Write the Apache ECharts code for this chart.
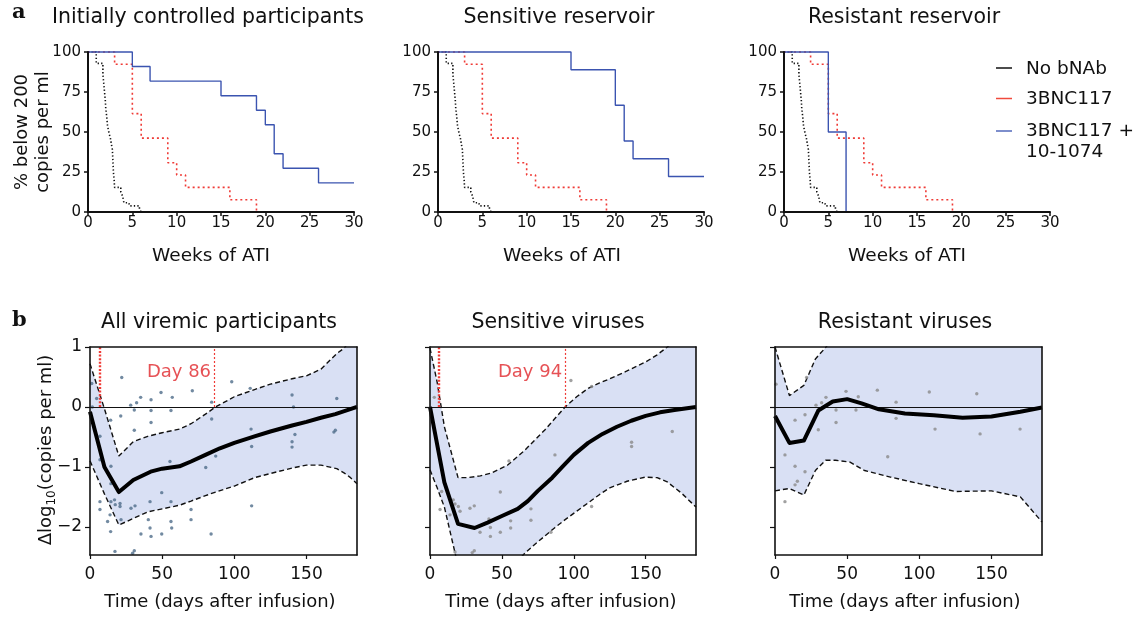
<!DOCTYPE html>
<html><head><meta charset="utf-8">
<script src="https://cdn.jsdelivr.net/npm/echarts@6/dist/echarts.min.js"></script>
<style>html,body{margin:0;padding:0;background:#fff}#c{width:1142px;height:619px}</style>
</head><body><div id="c"></div>
<script>
const FONT = '"DejaVu Sans", sans-serif';
const INK = '#111';
const RED = '#ef3b36';
const BLUE = '#3b54b0';
const BAND = '#d9e0f4';

// ---------- Panel a: Kaplan-Meier steps [week of ATI, % below 200 copies/ml]
const weekTicks = [0, 5, 10, 15, 20, 25, 30];
const pctTicks = [0, 25, 50, 75, 100];
const kmNoBnab = [[0,100],[0.93,92.9],[1.68,86],[1.85,76],[1.95,70],[2.0,65],[2.1,60],[2.2,54],[2.4,48.5],[2.5,47],[2.65,42],[2.75,39],[2.87,24.6],[2.95,20],[3.0,15.4],[3.7,12.5],[3.9,10],[4.05,5.8],[4.6,4.8],[4.7,3.8],[5.8,1.9],[6.0,0]];
const km3bnc117 = [[0,100],[3,92.3],[5,61.5],[6,46.2],[9,30.8],[10,23.1],[11,15.4],[16,7.7],[19,0]];
const kmComboControlled = [[0,100],[5,90.9],[7,81.8],[15,72.7],[19,63.6],[20,54.5],[21,36.4],[22,27.3],[26,18.2],[30,18.2]];
const kmComboSensitive = [[0,100],[15,88.9],[20,66.7],[21,44.4],[22,33.3],[26,22.2],[30,22.2]];
const kmComboResistant = [[0,100],[5,50],[7,0]];

// ---------- Panel b: change in log10 viral load vs days after infusion
const dayTicks = [0, 50, 100, 150];
const logTicks = [-2, -1, 0, 1];

const bandDaysAll = [0,10,20,30,40,50,62,70,80,87,100,114,125,140,150,160,171,176,180,185];
const upperAll = [0.72,-0.03,-0.82,-0.58,-0.49,-0.43,-0.37,-0.28,-0.12,0.0,0.17,0.29,0.38,0.47,0.52,0.63,0.89,0.98,1.1,1.3];
const lowerAll = [-0.9,-1.45,-1.97,-1.86,-1.75,-1.7,-1.64,-1.57,-1.48,-1.42,-1.32,-1.18,-1.11,-1.02,-0.97,-0.97,-1.03,-1.1,-1.17,-1.28];
const meanDaysAll = [0,10,20,30,42,50,62,70,80,90,100,114,125,140,150,160,170,185];
const meanAll = [-0.08,-1.0,-1.42,-1.22,-1.08,-1.03,-0.99,-0.91,-0.8,-0.69,-0.6,-0.49,-0.41,-0.31,-0.25,-0.18,-0.12,0.0];
const pointsAll = [[1.2,0.39],[4.6,0.14],[1.6,0.0],[6.9,-0.49],[6.9,-0.88],[6.9,-1.58],[6.9,-1.71],[12.2,-1.91],[13.9,-1.8],[14.3,-2.08],[14.3,-0.22],[14.5,-0.99],[14.5,-1.28],[14.5,-1.58],[17,-1.55],[17.5,-1.63],[17.3,-2.41],[20.8,-1.61],[20.8,-1.66],[21.3,-0.15],[22,0.49],[21.5,-1.88],[28.2,0.03],[28.4,-1.69],[29.5,-2.44],[30.7,-2.4],[30.7,-0.05],[30.7,-0.39],[31.2,-1.65],[32.3,0.07],[35.1,0.16],[35.3,-2.12],[41.6,-1.58],[42.3,0.12],[42.3,-0.06],[42.3,-0.26],[41.6,-2.02],[42.3,-2.16],[40.4,-1.88],[49.2,0.24],[49.7,-1.43],[49.7,-2.12],[56.1,-0.06],[57,0.16],[56.1,-1.58],[56.1,-1.91],[56.6,-2.02],[55.4,-0.91],[70,-1.71],[70,-1.88],[70.9,0.27],[80.2,-1.01],[84.3,0.08],[84.3,-0.2],[83.9,-2.12],[87.1,-0.82],[98.2,0.42],[111.6,-0.37],[112,-0.66],[112,-1.65],[111,0.31],[140,0.2],[141,0.0],[140,-0.58],[140,-0.67],[142,-0.46],[169,-0.42],[170,-0.39],[171,0.14]];

const bandDaysSens = [0,5,10,19.5,26,35,43,54,66,73,80,87,94,102,110,118,125,137,150,158,165,175,185];
const upperSens = [0.98,0.41,-0.33,-1.18,-1.18,-1.15,-1.1,-0.97,-0.72,-0.55,-0.38,-0.19,0.0,0.17,0.31,0.4,0.47,0.6,0.75,0.87,1.0,1.2,1.4];
const lowerSens = [-1.05,-1.35,-1.67,-2.65,-2.9,-3.0,-2.95,-2.75,-2.44,-2.29,-2.15,-2.01,-1.88,-1.74,-1.6,-1.46,-1.35,-1.24,-1.17,-1.18,-1.25,-1.44,-1.67];
const meanDaysSens = [0,10,19.5,31,40,50,61,68,75,85,92,100,110,120,130,140,150,160,170,185];
const meanSens = [0,-1.26,-1.95,-2.02,-1.93,-1.82,-1.7,-1.57,-1.4,-1.18,-1.0,-0.8,-0.6,-0.45,-0.33,-0.23,-0.15,-0.09,-0.05,0.0];
const pointsSens = [[3.0,0.16],[8.1,-1.41],[7.0,-1.71],[13.9,-1.8],[16.2,-1.55],[17.4,-1.62],[19.7,-1.66],[20.9,-1.74],[17.4,-2.42],[27.8,-1.69],[30.8,-1.65],[29.4,-2.43],[30.8,-2.4],[34.8,-2.09],[41,-1.87],[42,-2.01],[42,-2.16],[48.9,-1.42],[48.9,-2.09],[54.9,-0.9],[56.1,-1.9],[56.1,-2.02],[70.2,-1.7],[70.2,-1.89],[84.1,-2.09],[86.9,-0.8],[98,0.44],[112.4,0.34],[112.4,-1.66],[140.2,-0.59],[140.2,-0.66],[168.5,-0.41]];

const bandDaysRes = [0,10,20,28,35,42,52,62,80,100,125,150,170,185];
const upperRes = [1.0,0.19,0.36,0.8,0.99,1.2,1.3,1.4,1.5,1.6,1.7,1.8,1.9,2.0];
const lowerRes = [-1.4,-1.36,-1.47,-1.06,-0.89,-0.89,-0.92,-1.06,-1.17,-1.28,-1.41,-1.4,-1.5,-1.92];
const meanDaysRes = [0,10,20,30,40,50,60,72,90,110,130,150,170,185];
const meanRes = [-0.15,-0.6,-0.56,-0.06,0.09,0.13,0.06,-0.04,-0.11,-0.14,-0.18,-0.16,-0.08,-0.01];
const pointsRes = [[0.7,0.38],[6.9,-0.8],[6.9,-1.58],[13.9,-0.22],[13.9,-0.99],[13.9,-1.3],[15.5,-1.24],[20.8,-0.13],[20.8,-1.08],[21.9,0.49],[28.4,0.03],[30,-0.38],[32.3,0.07],[35.3,0.16],[42.3,-0.05],[42.3,-0.26],[49.2,0.26],[56.1,-0.05],[57.7,0.17],[70.9,0.28],[78.1,-0.83],[83.9,0.08],[83.9,-0.19],[106.9,0.25],[110.9,-0.37],[139.8,0.22],[142.1,-0.45],[169.8,-0.37]];

// red marker lines [first infusion day, crossing day]
const markDaysAll = [7, 86];
const markDaysSens = [6, 94];

// ---------- layout
const topGrids = [
  {left: 88, top: 52, width: 266, height: 160},
  {left: 438, top: 52, width: 266, height: 160},
  {left: 784, top: 52, width: 266, height: 160}
];
const botGrids = [
  {left: 90, top: 347, width: 267, height: 208},
  {left: 430, top: 347, width: 266, height: 208},
  {left: 775, top: 347, width: 267, height: 208}
];
const grid = topGrids.concat(botGrids).map(g => Object.assign({outerBoundsMode: 'none', containLabel: false}, g));

const xAxis = [], yAxis = [];
for (let i = 0; i < 3; i++) {
  xAxis.push({gridIndex: i, type: 'value', min: 0, max: 30, z: 10,
    axisLine: {show: true, onZero: false, lineStyle: {color: INK, width: 2}},
    axisTick: {show: true, length: 4, customValues: weekTicks, lineStyle: {color: INK, width: 1.5}},
    axisLabel: {show: true, margin: 4, customValues: weekTicks, fontSize: 15, color: INK, fontFamily: FONT},
    splitLine: {show: false}});
}
for (let i = 0; i < 3; i++) {
  xAxis.push({gridIndex: 3 + i, type: 'value', min: 0, max: 185, z: 10,
    axisLine: {show: true, onZero: false, lineStyle: {color: INK, width: 1.6}},
    axisTick: {show: true, length: 4, customValues: dayTicks, lineStyle: {color: INK, width: 1.2}},
    axisLabel: {show: true, margin: 11, customValues: dayTicks, fontSize: 17, color: INK, fontFamily: FONT},
    splitLine: {show: false}});
}
for (let i = 0; i < 3; i++) {
  xAxis.push({gridIndex: 3 + i, type: 'value', position: 'top', min: 0, max: 185, z: 10,
    axisLine: {show: true, onZero: false, lineStyle: {color: INK, width: 1.6}},
    axisTick: {show: false}, axisLabel: {show: false}, splitLine: {show: false}});
}
for (let i = 0; i < 3; i++) {
  yAxis.push({gridIndex: i, type: 'value', min: 0, max: 100, z: 10,
    axisLine: {show: true, onZero: false, lineStyle: {color: INK, width: 2}},
    axisTick: {show: true, length: 4, customValues: pctTicks, lineStyle: {color: INK, width: 1.5}},
    axisLabel: {show: true, margin: 7, customValues: pctTicks, fontSize: 15, color: INK, fontFamily: FONT},
    splitLine: {show: false}});
}
for (let i = 0; i < 3; i++) {
  yAxis.push({gridIndex: 3 + i, type: 'value', min: -2.47, max: 1, z: 10,
    axisLine: {show: true, onZero: false, lineStyle: {color: INK, width: 1.6}},
    axisTick: {show: true, length: 5, customValues: logTicks, lineStyle: {color: INK, width: 1.2}},
    axisLabel: {show: i === 0, margin: 8, customValues: logTicks, fontSize: 17, color: INK, fontFamily: FONT,
      formatter: v => String(v).replace('-', '\u2212')},
    splitLine: {show: false}});
}
for (let i = 0; i < 3; i++) {
  yAxis.push({gridIndex: 3 + i, type: 'value', position: 'right', min: -2.47, max: 1, z: 10,
    axisLine: {show: true, onZero: false, lineStyle: {color: INK, width: 1.6}},
    axisTick: {show: false}, axisLabel: {show: false}, splitLine: {show: false}});
}

const series = [];
function kmLine(i, data, color, type, width) {
  series.push({type: 'line', xAxisIndex: i, yAxisIndex: i, data: data, step: 'end',
    showSymbol: false, clip: false, silent: true, animation: false,
    lineStyle: {color: color, width: width, type: type, cap: 'butt'}});
}
const combos = [kmComboControlled, kmComboSensitive, kmComboResistant];
for (let i = 0; i < 3; i++) {
  kmLine(i, kmNoBnab, INK, [1.3, 2.2], 1.6);
  kmLine(i, km3bnc117, RED, [2, 3], 1.6);
  kmLine(i, combos[i], BLUE, 'solid', 1.4);
}

function bottomPanel(p, bandDays, upper, lower, meanDays, mean, pts, ptColor, marks) {
  const ax = 3 + p;
  const dash = {color: INK, width: 1.4, type: [5, 3]};
  // confidence band: fill below the upper bound, then blank out below the lower bound
  series.push({type: 'line', xAxisIndex: ax, yAxisIndex: ax,
    data: bandDays.map((d, k) => [d, upper[k]]), showSymbol: false, silent: true, animation: false,
    lineStyle: dash, areaStyle: {color: BAND, opacity: 1, origin: 'start'}, z: 2});
  series.push({type: 'line', xAxisIndex: ax, yAxisIndex: ax,
    data: bandDays.map((d, k) => [d, lower[k]]), showSymbol: false, silent: true, animation: false,
    lineStyle: dash, areaStyle: {color: '#ffffff', opacity: 1, origin: 'start'}, z: 3});
  const scatter = {type: 'scatter', xAxisIndex: ax, yAxisIndex: ax, data: pts, symbolSize: 3.4,
    itemStyle: {color: ptColor}, silent: true, animation: false, z: 4,
    markLine: {silent: true, symbol: 'none', animation: false, label: {show: false},
      data: [{yAxis: 0, lineStyle: {color: INK, width: 1, type: 'solid'}}]}};
  if (marks) {
    scatter.markLine.data.push(
      [{coord: [marks[0], 0], lineStyle: {color: RED, width: 2.4, type: [2, 1.6]}}, {coord: [marks[0], 1]}],
      [{coord: [marks[1], 0], lineStyle: {color: RED, width: 1.2, type: [2, 2]}}, {coord: [marks[1], 1]}]
    );
  }
  series.push(scatter);
  series.push({type: 'line', xAxisIndex: ax, yAxisIndex: ax, data: meanDays.map((d, k) => [d, mean[k]]),
    showSymbol: false, silent: true, animation: false, lineStyle: {color: '#000', width: 4, join: 'round'}, z: 5});
  if (marks) {
    series.push({type: 'scatter', xAxisIndex: ax, yAxisIndex: ax, data: [[marks[1], 0.58]], symbolSize: 0.1,
      itemStyle: {color: 'rgba(0,0,0,0)'}, silent: true, animation: false, z: 6,
      label: {show: true, position: 'left', distance: 3, formatter: 'Day ' + marks[1],
        color: '#e0252b', fontSize: 18, fontFamily: FONT}});
  }
}
bottomPanel(0, bandDaysAll, upperAll, lowerAll, meanDaysAll, meanAll, pointsAll, '#4f6d8a', markDaysAll);
bottomPanel(1, bandDaysSens, upperSens, lowerSens, meanDaysSens, meanSens, pointsSens, '#8a8a8a', markDaysSens);
bottomPanel(2, bandDaysRes, upperRes, lowerRes, meanDaysRes, meanRes, pointsRes, '#8a8a8a', null);

function txt(text, x, y, size, opts) {
  return Object.assign({type: 'text', x: x, y: y, silent: true,
    style: Object.assign({text: text, fontSize: size, fontFamily: FONT, fill: INK,
      textAlign: 'center', textVerticalAlign: 'middle'}, (opts && opts.style) || {})},
    (opts && opts.el) || {});
}
const graphic = [
  txt('a', 12, 13, 21, {style: {fontFamily: '"DejaVu Serif", serif', fontWeight: 'bold', textAlign: 'left'}}),
  txt('b', 12, 321, 21, {style: {fontFamily: '"DejaVu Serif", serif', fontWeight: 'bold', textAlign: 'left'}}),
  txt('Initially controlled participants', 208, 18, 20.5),
  txt('Sensitive reservoir', 559, 18, 20.5),
  txt('Resistant reservoir', 904, 18, 20.5),
  txt('All viremic participants', 219, 323, 20.5),
  txt('Sensitive viruses', 558, 323, 20.5),
  txt('Resistant viruses', 905, 323, 20.5),
  txt('Weeks of ATI', 211, 256, 18.5),
  txt('Weeks of ATI', 562, 256, 18.5),
  txt('Weeks of ATI', 907, 256, 18.5),
  txt('Time (days after infusion)', 220, 602, 18),
  txt('Time (days after infusion)', 561, 602, 18),
  txt('Time (days after infusion)', 905, 602, 18),
  txt('% below 200\ncopies per ml', 33, 132, 18, {style: {lineHeight: 21}, el: {rotation: Math.PI / 2}}),
  {type: 'text', x: 46, y: 450, rotation: Math.PI / 2, silent: true,
    style: {text: '{a|\u0394log}{s|10}{a|(copies per ml)}', textAlign: 'center', textVerticalAlign: 'middle',
      rich: {a: {fontSize: 18, fontFamily: FONT, fill: INK, lineHeight: 24},
             s: {fontSize: 12, fontFamily: FONT, fill: INK, lineHeight: 14, verticalAlign: 'bottom'}}}},
  // legend
  {type: 'line', silent: true, shape: {x1: 996, y1: 68, x2: 1012, y2: 68}, style: {stroke: INK, lineWidth: 1.5}},
  {type: 'line', silent: true, shape: {x1: 996, y1: 98.5, x2: 1012, y2: 98.5}, style: {stroke: '#f04a3c', lineWidth: 1.5}},
  {type: 'line', silent: true, shape: {x1: 996, y1: 131, x2: 1012, y2: 131}, style: {stroke: '#5268bb', lineWidth: 1.5}},
  txt('No bNAb', 1026, 69, 18.5, {style: {textAlign: 'left'}}),
  txt('3BNC117', 1026, 99, 18.5, {style: {textAlign: 'left'}}),
  txt('3BNC117 +', 1026, 131, 18.5, {style: {textAlign: 'left'}}),
  txt('10-1074', 1026, 152.5, 18.5, {style: {textAlign: 'left'}})
];

const chart = echarts.init(document.getElementById('c'), null, {renderer: 'canvas'});
chart.setOption({animation: false, backgroundColor: '#fff', textStyle: {fontFamily: FONT},
  grid: grid, xAxis: xAxis, yAxis: yAxis, series: series, graphic: graphic});
</script></body></html>
